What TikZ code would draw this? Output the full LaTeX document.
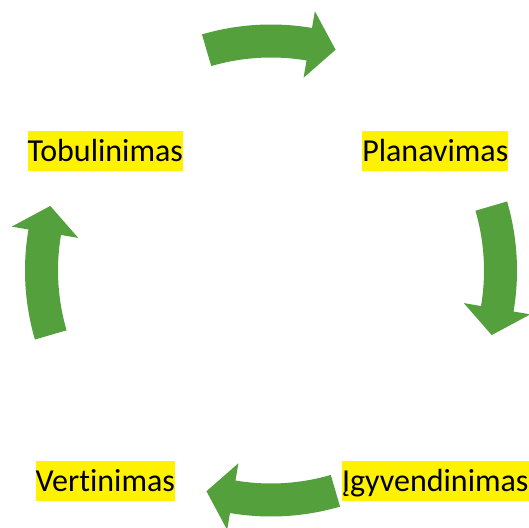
\documentclass[tikz,border=0pt]{standalone}
\usepackage{fontspec}
\setmainfont{Carlito}[Ligatures=NoCommon]
\usetikzlibrary{matrix}

\definecolor{arrowgreen}{RGB}{84,160,60}

\tikzset{
  stage/.style={fill=yellow,text height=29pt,text depth=7.5pt,inner xsep=0pt,inner ysep=1.5pt,
    font=\fontsize{32}{38}\selectfont},
  bent/.style={fill=arrowgreen,draw=none}
}

% curved block arrow, #1 = angle of its middle
\newcommand{\bentarrow}[1]{%
  \fill[bent] ({#1+16.3}:246pt) arc[start angle=#1+16.3,end angle=#1-9.6,radius=246pt]
    -- ({#1-9.6}:263pt) -- ({#1-16.3}:230pt) -- ({#1-9.6}:195.5pt) -- ({#1-9.6}:213pt)
    arc[start angle=#1-9.6,end angle=#1+16.3,radius=213pt] -- cycle;}

\begin{document}
\begin{tikzpicture}
  \useasboundingbox (0,0) rectangle (529pt,527pt);
  \matrix (m) [matrix of nodes,nodes={stage},column sep={330pt,between origins},
    row sep={330pt,between origins},matrix anchor=m-1-1.center] at (105.3pt,376pt)
  {
     Tobulinimas & Planavimas \\
     Vertinimas & Įgyvendinimas \\};
  \begin{scope}[shift={(271pt,256.5pt)}]
    \bentarrow{90}
    \bentarrow{0}
    \bentarrow{-90}
    \bentarrow{180}
  \end{scope}
\end{tikzpicture}
\end{document}
